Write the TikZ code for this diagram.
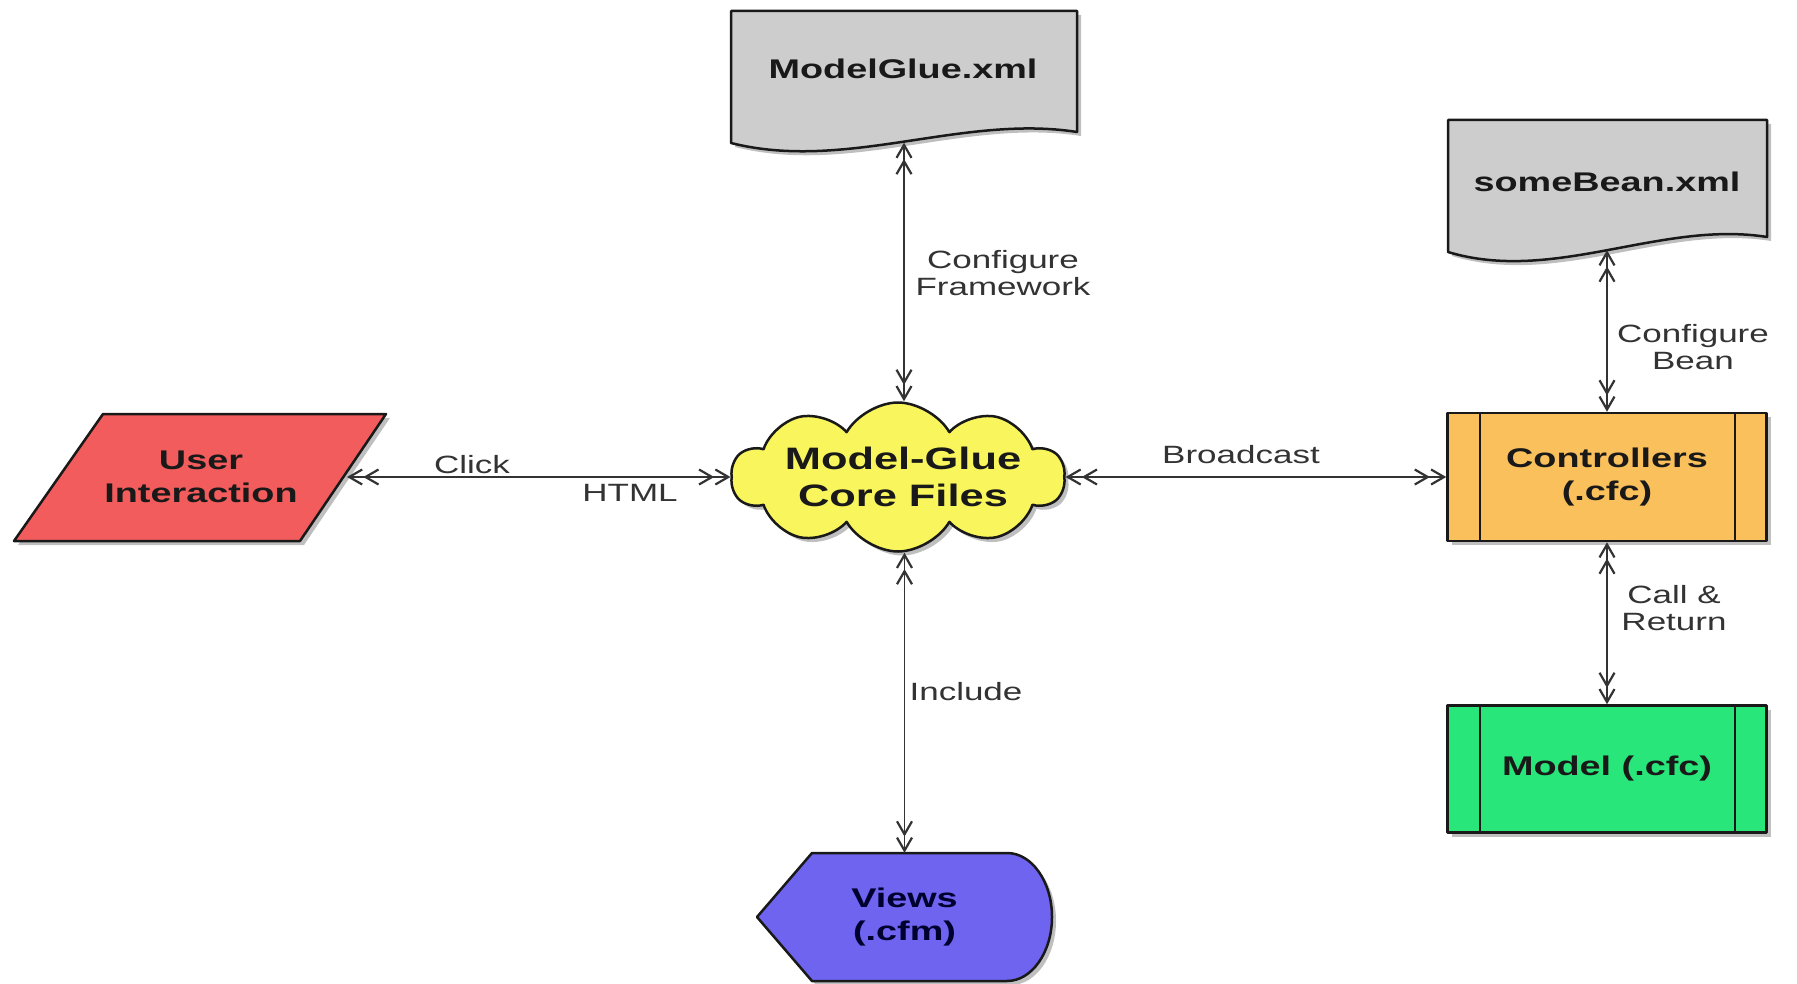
\documentclass[tikz,border=0pt]{standalone}
\usepackage{fontspec}
\setmainfont{Liberation Sans}[FakeStretch=1.4]
\usetikzlibrary{arrows.meta,shapes.symbols,shadows}
\definecolor{docgray}{RGB}{205,205,205}
\definecolor{uired}{RGB}{243,92,92}
\definecolor{coreyellow}{RGB}{249,245,92}
\definecolor{ctrlorange}{RGB}{249,192,92}
\definecolor{modelgreen}{RGB}{40,230,122}
\definecolor{viewsblue}{RGB}{110,100,240}
\definecolor{edge}{RGB}{25,25,25}
\begin{document}
\begin{tikzpicture}[x=1pt,y=-1pt,
  shapeline/.style={draw=edge, line width=2.5pt, line join=round},
  shad/.style={drop shadow={shadow xshift=4pt, shadow yshift=-4pt, opacity=0.25, fill=black}},
  ntext/.style={font=\fontsize{27}{33}\selectfont\bfseries, text=black!90, align=center, inner sep=0pt},
  frame/.style={rectangle, inner sep=0pt},
  lbl/.style={font=\fontsize{25}{27}\selectfont, text=black!80, align=center, inner sep=0pt},
  biarrow/.style={draw=black!80, line width=1.9pt,
    arrows={Straight Barb[length=13pt,width=15pt,line width=2.2pt]Straight Barb[length=13pt,width=15pt,line width=2.2pt]-Straight Barb[length=13pt,width=15pt,line width=2.2pt]Straight Barb[length=13pt,width=15pt,line width=2.2pt]}},
]
\useasboundingbox[fill=white] (0,0) rectangle (1797,984);

% ModelGlue.xml document
\filldraw[shapeline, fill=docgray, shad] (731,11) -- (1077,11) -- (1077,132)
  .. controls (962,114) and (846,172) .. (731,143) -- cycle;
\node[frame, minimum width=346pt, minimum height=131pt] (mgx) at (904,77) {};
\node[ntext] (mgxtext) at (903,69) {ModelGlue.xml};

% someBean.xml document
\filldraw[shapeline, fill=docgray, shad] (1448,120) -- (1767,120) -- (1767,237)
  .. controls (1661,220) and (1554,284) .. (1448,252) -- cycle;
\node[frame, minimum width=319pt, minimum height=130pt] (sb) at (1607,185) {};
\node[ntext] (sbtext) at (1607,182) {someBean.xml};

% User Interaction parallelogram
\filldraw[shapeline, fill=uired, shad] (103,414) -- (386,414) -- (300,541) -- (14,541) -- cycle;
\node[ntext] (ui) at (201,477) {User\\Interaction};
\coordinate (uiR) at (347,477);

% Core cloud
\node[cloud, cloud puffs=10, cloud puff arc=120, aspect=2.2, inner sep=0pt, minimum width=333pt, minimum height=149pt,
  shapeline, fill=coreyellow, shad] (core) at (898,477) {};
\node[ntext, font=\fontsize{31}{37}\selectfont\bfseries] (coretext) at (903,477) {Model-Glue\\Core Files};

% Controllers
\node[rectangle, shapeline, fill=ctrlorange, shad, minimum width=319pt, minimum height=128pt, ntext] (ctrl) at (1607,477) {Controllers\\(.cfc)};
\draw[draw=edge, line width=1.6pt] ([xshift=34pt]ctrl.north west) -- ([xshift=34pt]ctrl.south west);
\draw[draw=edge, line width=1.6pt] ([xshift=-33pt]ctrl.north east) -- ([xshift=-33pt]ctrl.south east);

% Model
\node[rectangle, shapeline, fill=modelgreen, shad, minimum width=319pt, minimum height=127pt, ntext] (model) at (1607,769) {Model (.cfc)};
\draw[draw=edge, line width=1.6pt] ([xshift=34pt]model.north west) -- ([xshift=34pt]model.south west);
\draw[draw=edge, line width=1.6pt] ([xshift=-33pt]model.north east) -- ([xshift=-33pt]model.south east);

% Views display shape
\filldraw[shapeline, fill=viewsblue, shad] (757,917) -- (812,853) -- (1007,853)
  .. controls (1032,853) and (1052,882) .. (1052,917)
  .. controls (1052,952) and (1032,981) .. (1007,981) -- (812,981) -- cycle;
\node[frame, minimum width=295pt, minimum height=128pt, ntext, text=black!70!blue!60!black] (views) at (904.5,917) {Views\\(.cfm)};

% connectors
\draw[biarrow] (mgx.south) -- (mgx.south |- core.north);
\draw[biarrow] (views.north |- core.south) -- (views.north);
\draw[biarrow] (uiR) -- (core.west);
\draw[biarrow] (core.east) -- (ctrl.west);
\draw[biarrow] (sb.south) -- (ctrl.north);
\draw[biarrow] (ctrl.south) -- (model.north);

% labels
\node[lbl] (lcfw) at (1003,273) {Configure\\Framework};
\node[lbl] (lcb) at (1693,347) {Configure\\Bean};
\node[lbl] (lcr) at (1674,608) {Call \&\\Return};
\node[lbl] (linc) at (966,692) {Include};
\node[lbl] (lclick) at (472,465) {Click};
\node[lbl] (lhtml) at (630,493) {HTML};
\node[lbl] (lbc) at (1241,455) {Broadcast};
\end{tikzpicture}
\end{document}
